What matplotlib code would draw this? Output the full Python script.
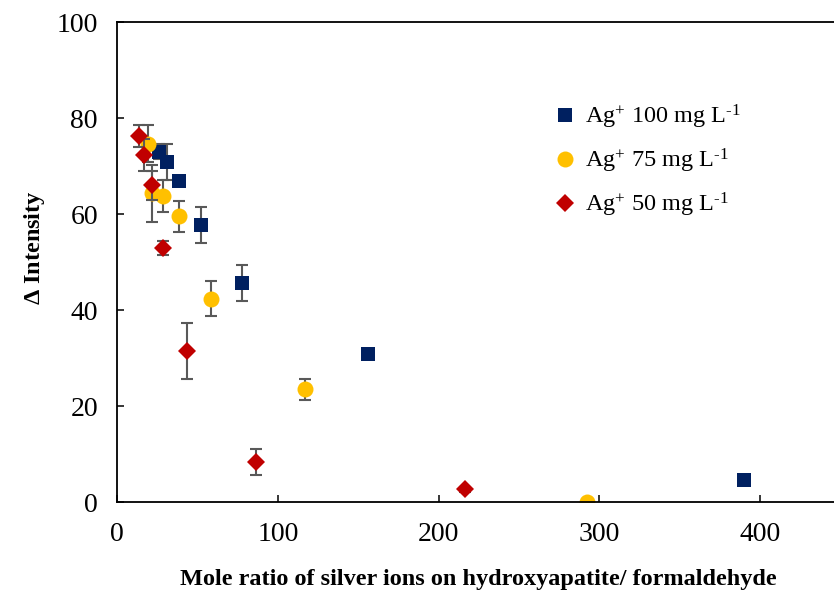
import matplotlib
matplotlib.use('Agg')
import matplotlib.pyplot as plt

# Ag+ 100 mg/L
x_100 = [26.1, 31.1, 38.6, 51.8, 77.8, 156.3, 390.3]
y_100 = [73.0, 70.8, 66.8, 57.7, 45.6, 30.9, 4.6]
e_100 = [1.5, 3.8, 1.0, 3.7, 3.7, 0.8, 0.8]

# Ag+ 75 mg/L
x_75 = [19.3, 21.4, 28.6, 38.6, 58.1, 116.8, 292.2]
y_75 = [74.7, 64.3, 63.8, 59.5, 42.4, 23.5, 0.1]
e_75 = [3.8, 6.0, 3.3, 3.2, 3.7, 2.2, 0.3]

# Ag+ 50 mg/L
x_50 = [13.7, 16.6, 21.4, 28.6, 43.2, 86.3, 216.5]
y_50 = [76.3, 72.3, 66.0, 52.9, 31.5, 8.4, 2.7]
e_50 = [2.3, 3.3, 3.0, 1.5, 5.8, 2.7, 0.5]

labels = [r'Ag$^{+}$ 100 mg L$^{\text{-1}}$',
          r'Ag$^{+}$ 75 mg L$^{\text{-1}}$',
          r'Ag$^{+}$ 50 mg L$^{\text{-1}}$']

plt.rcParams['font.family'] = ['Liberation Serif', 'DejaVu Serif']
plt.rcParams['mathtext.fontset'] = 'custom'
plt.rcParams['mathtext.rm'] = 'Liberation Serif'
plt.rcParams['mathtext.it'] = 'Liberation Serif'
plt.rcParams['mathtext.bf'] = 'Liberation Serif:bold'

fig = plt.figure(figsize=(8.34, 5.9), dpi=100)
ax = fig.add_axes([0.1407, 0.149, 0.8667, 0.8136])

series = [
    (x_100, y_100, e_100, 's', '#002060', 10.5, labels[0]),
    (x_75, y_75, e_75, 'o', '#FFC000', 11.5, labels[1]),
    (x_50, y_50, e_50, 'D', '#C00000', 9.5, labels[2]),
]
for xs, ys, es, m, c, ms, lab in series:
    ax.errorbar(xs, ys, yerr=es, fmt='none', ecolor='#595959',
                elinewidth=1.5, capsize=4, capthick=1.5)
    ax.plot(xs, ys, linestyle='none', marker=m, color=c, markersize=ms,
            markeredgewidth=0, label=lab)

ax.set_xlim(0, 450)
ax.set_ylim(0, 100)
ax.set_xticks([0, 100, 200, 300, 400])
ax.set_yticks([0, 20, 40, 60, 80, 100])
ax.tick_params(direction='in', length=5, width=1.1, labelsize=20)
ax.tick_params(axis='y', pad=14)
ax.tick_params(axis='x', pad=14)
for s in ax.spines.values():
    s.set_linewidth(1.3)

ax.set_xlabel('Mole ratio of silver ions on hydroxyapatite/ formaldehyde',
              fontsize=17.5, fontweight='bold', labelpad=16)
ax.set_ylabel(r'$\mathbf{\Delta}$ Intensity', fontsize=17.5,
              fontweight='bold')
ax.yaxis.set_label_coords(-0.097, 0.53)

ax.legend(loc='upper left', bbox_to_anchor=(0.64, 0.863),
          bbox_transform=fig.transFigure, frameon=False, fontsize=17.5,
          handlelength=0.8, handletextpad=0.4, labelspacing=0.66,
          markerscale=1.0)

fig.savefig('out.png', dpi=100)
